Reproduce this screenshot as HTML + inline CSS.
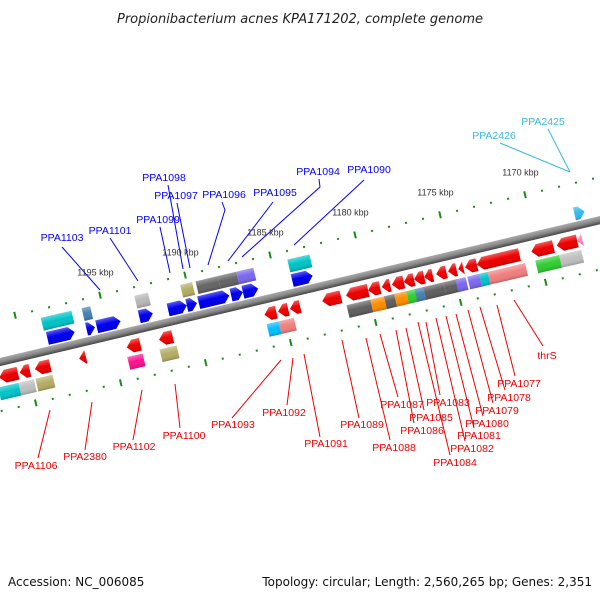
<!DOCTYPE html>
<html><head><meta charset="utf-8"><style>
body{margin:0;background:#fff}
svg{display:block;font-family:"Liberation Sans",sans-serif}
</style></head><body>
<svg id="chart" width="600" height="600" viewBox="0 0 600 600">
<defs>
<linearGradient id="shade" x1="0" y1="0" x2="0" y2="1">
<stop offset="0" stop-color="#fff" stop-opacity="0.35"/>
<stop offset="0.45" stop-color="#fff" stop-opacity="0"/>
<stop offset="0.8" stop-color="#000" stop-opacity="0.05"/>
<stop offset="1" stop-color="#000" stop-opacity="0.2"/>
</linearGradient>
<linearGradient id="bandg" x1="0" y1="0" x2="0" y2="1">
<stop offset="0" stop-color="#aaa"/><stop offset="0.5" stop-color="#888"/><stop offset="1" stop-color="#444"/>
</linearGradient>
</defs>
<text x="300" y="23" text-anchor="middle" font-size="13" font-style="italic" fill="#222" style="font-family:'DejaVu Sans',sans-serif">Propionibacterium acnes KPA171202, complete genome</text>
<g id="rot" transform="translate(0,362) rotate(-13.3)">
<rect x="-30" y="-4" width="700" height="8" fill="url(#bandg)"/>
</g>
<g id="labels"></g>
<text x="8" y="586" font-size="12" fill="#111" style="font-family:'DejaVu Sans',sans-serif">Accession: NC_006085</text>
<text x="592" y="586" font-size="12" text-anchor="end" fill="#111" style="font-family:'DejaVu Sans',sans-serif">Topology: circular; Length: 2,560,265 bp; Genes: 2,351</text>
</svg>
<script>
// ---- data (positions in kbp) ----
const aboveStart=[1198.5,1196.2,1195.6,1193.1,1191.4,1190.3,1189.6,1187.7,1187.0,1184.1,1167.5];
const aboveEnd  =[1196.9,1195.7,1194.2,1192.3,1190.3,1189.7,1187.8,1187.0,1186.1,1182.9,1166.9];
const aboveColor=["#0000ee","#0000ee","#0000ee","#0000ee","#0000ee","#0000ee","#0000ee","#0000ee","#0000ee","#0000ee","#33bbee"];
const above2Start=[1198.6,1196.2,1193.1,1190.4,1189.5,1188.2,1187.1,1184.1];
const above2End  =[1196.8,1195.7,1192.3,1189.7,1188.2,1187.1,1186.1,1182.8];
const above2Color=["#00c4c8","#4682b4","#b8b8b8","#b5ad66","#666","#666","#7b68ee","#00c4c8"];
const belowStart=[1201.7,1200.5,1199.6,1197.0,1194.2,1192.3,1186.1,1185.3,1184.6,1182.7,1181.3,1180.0,1179.2,1178.6,1177.9,1177.3,1176.7,1176.0,1175.3,1174.7,1174.3,1173.6,1170.4,1168.9,1167.7];
const belowEnd  =[1200.6,1199.9,1198.7,1196.6,1193.4,1191.5,1185.4,1184.7,1184.0,1181.6,1180.0,1179.3,1178.7,1177.9,1177.3,1176.7,1176.2,1175.4,1174.8,1174.4,1173.6,1171.1,1169.1,1167.7,1167.4];
const belowColor=["#ee0000","#ee0000","#ee0000","#ee0000","#ee0000","#ee0000","#ee0000","#ee0000","#ee0000","#ee0000","#ee0000","#ee0000","#ee0000","#ee0000","#ee0000","#ee0000","#ee0000","#ee0000","#ee0000","#ee0000","#ee0000","#ee0000","#ee0000","#ee0000","#ff88bb"];
const below2Start=[1201.9,1200.7,1199.7,1194.3,1192.4,1186.1,1185.4,1181.4,1180.0,1179.2,1178.6,1177.9,1177.4,1176.9,1175.7,1175.0,1174.3,1173.6,1173.1,1170.3,1168.9];
const below2End  =[1200.7,1199.8,1198.7,1193.4,1191.4,1185.4,1184.5,1180.0,1179.2,1178.6,1177.9,1177.3,1176.9,1175.7,1174.9,1174.4,1173.6,1173.1,1170.9,1168.9,1167.6];
const below2Color=["#00c4c8","#c0c0c0","#b5ad66","#ff1493","#b5ad66","#00bfff","#f08080","#606060","#ff8c00","#606060","#ff8c00","#32cd32","#4682b4","#606060","#606060","#7b68ee","#7b68ee","#00c4c8","#f08080","#32cd32","#c0c0c0"];
const tickMin=1164, tickMax=1202;
const tickLabels=[1195,1190,1185,1180,1175,1170];

const NS="http://www.w3.org/2000/svg";
const SIN=Math.sin(13.3*Math.PI/180), COS=Math.cos(13.3*Math.PI/180);
function U(k){return (109.7+(1195-k)*17)/COS;}
function toScreen(u,v){return [u*COS+v*SIN, 362-u*SIN+v*COS];}
const rot=document.getElementById('rot');
const svg=document.getElementById('chart');
function mk(tag,attrs,parent){const e=document.createElementNS(NS,tag);for(const k in attrs)e.setAttribute(k,attrs[k]);parent.appendChild(e);return e;}

function gene(s,e,vc,color,kind,name){
  const u1=U(s),u2=U(e),h=6.5,v0=vc-h,v1=vc+h;let pts;
  const ah=Math.min(6,(u2-u1));
  if(kind==='right') pts=[[u1,v0],[u2-ah,v0],[u2,vc],[u2-ah,v1],[u1,v1]];
  else if(kind==='left') pts=[[u2,v0],[u1+ah,v0],[u1,vc],[u1+ah,v1],[u2,v1]];
  else pts=[[u1,v0],[u2,v0],[u2,v1],[u1,v1]];
  const p=pts.map(q=>q.join(',')).join(' ');
  const g=mk('g',{},rot);
  
  
  mk('polygon',{points:p,fill:color},g);
  mk('polygon',{points:p,fill:'url(#shade)'},g);
}
aboveStart.forEach((s,i)=>gene(s,aboveEnd[i],-12,aboveColor[i],'right','gene-above-'+i));
above2Start.forEach((s,i)=>gene(s,above2End[i],-27,above2Color[i],'box','gene-above2-'+i));
belowStart.forEach((s,i)=>gene(s,belowEnd[i],15,belowColor[i],'left','gene-below-'+i));
below2Start.forEach((s,i)=>gene(s,below2End[i],31,below2Color[i],'box','gene-below2-'+i));

// ticks
for(let k=tickMin;k<=tickMax;k++){
  const major=(k%5===0);
  [-42,48].forEach(v=>{
    const t=mk('rect',{x:U(k)-1,y:major?v-3.5:v-1,width:2,height:major?7:2,fill:'#1a8a1a'},rot);
    
    
  });
}
tickLabels.forEach(k=>{
  const [x,y]=toScreen(U(k),-62);
  const t=mk('text',{x:x,y:y,'text-anchor':'middle','font-size':'9',fill:'#333'},svg);
  t.textContent=k+' kbp';
  
  
});

// gene labels with leader lines
const LBL=[
["PPA1103",62,241,"#0000ff",[[62,247],[100,290]]],
["PPA1101",110,234,"#0000ff",[[110,238],[138,281]]],
["PPA1099",158,223,"#0000ff",[[160,227],[170,273]]],
["PPA1098",164,181,"#0000ff",[[168,185],[183,269]]],
["PPA1097",176,199,"#0000ff",[[177,203],[190,268]]],
["PPA1096",224,198,"#0000ff",[[222,202],[225,210],[208,265]]],
["PPA1095",275,196,"#0000ff",[[273,202],[228,261]]],
["PPA1094",318,175,"#0000ff",[[319,179],[320,187],[242,257]]],
["PPA1090",369,173,"#0000ff",[[364,180],[294,245]]],
["PPA2425",543,125,"#33bbdd",[[548,129],[570,172]]],
["PPA2426",494,139,"#33bbdd",[[500,143],[570,172]]],
["PPA1106",36,469,"#ee0000",[[38,458],[50,410]]],
["PPA2380",85,460,"#ee0000",[[85,450],[92,402]]],
["PPA1102",134,450,"#ee0000",[[133,440],[142,390]]],
["PPA1100",184,439,"#ee0000",[[180,428],[175,384]]],
["PPA1093",233,428,"#ee0000",[[232,418],[281,360]]],
["PPA1092",284,416,"#ee0000",[[287,405],[293,358]]],
["PPA1091",326,447,"#ee0000",[[320,437],[304,354]]],
["PPA1089",362,428,"#ee0000",[[359,418],[342,340]]],
["PPA1088",394,451,"#ee0000",[[390,440],[366,338]]],
["PPA1087",402,408,"#ee0000",[[398,397],[380,334]]],
["PPA1086",422,434,"#ee0000",[[414,423],[396,330]]],
["PPA1085",431,421,"#ee0000",[[424,410],[406,328]]],
["PPA1084",455,466,"#ee0000",[[450,455],[418,322]]],
["PPA1083",448,406,"#ee0000",[[440,395],[426,322]]],
["PPA1082",472,452,"#ee0000",[[465,441],[436,318]]],
["PPA1081",479,439,"#ee0000",[[474,428],[446,316]]],
["PPA1080",487,427,"#ee0000",[[483,416],[456,314]]],
["PPA1079",497,414,"#ee0000",[[493,403],[468,310]]],
["PPA1078",509,401,"#ee0000",[[505,390],[480,307]]],
["PPA1077",519,387,"#ee0000",[[515,376],[497,305]]],
["thrS",547,359,"#ee0000",[[543,346],[514,300]]]
];
const lg=document.getElementById('labels');
LBL.forEach(l=>{
  const pl=mk('polyline',{points:l[4].map(p=>p.join(',')).join(' '),fill:'none',stroke:l[3],'stroke-width':'1'},lg);
  
  
  const t=mk('text',{x:l[1],y:l[2],'text-anchor':'middle','font-size':'10.5',fill:l[3]},lg);
  t.textContent=l[0];
  
  
});
</script>
</body></html>
